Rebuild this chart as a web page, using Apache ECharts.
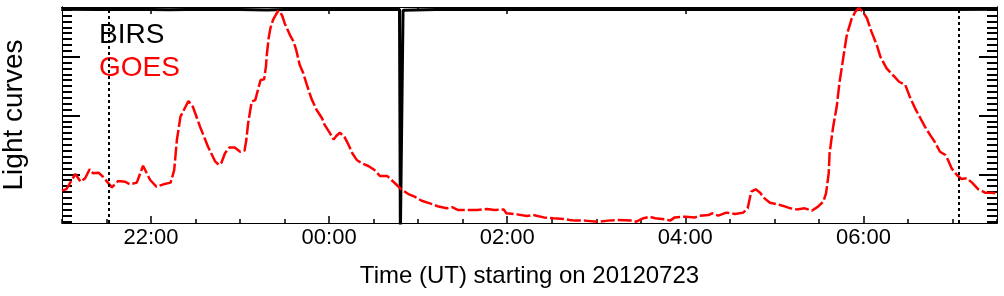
<!DOCTYPE html>
<html>
<head>
<meta charset="utf-8">
<script src="https://cdn.jsdelivr.net/npm/echarts@6.0.0/dist/echarts.min.js"></script>
<style>
html, body { margin: 0; padding: 0; background: #fff; }
#chart { width: 1004px; height: 296px; }
</style>
</head>
<body>
<div id="chart"></div>
<script>
// GOES light curve: time in decimal hours UT (>24 = next day), normalised flux
var goesTime = [21.00, 21.05, 21.15, 21.21, 21.26, 21.31, 21.35, 21.41, 21.46, 21.56,
  21.63, 21.71, 21.76, 21.84, 21.91, 21.99, 22.06, 22.14, 22.22, 22.26,
  22.29, 22.33, 22.42, 22.47, 22.55, 22.64, 22.72, 22.76, 22.79, 22.83,
  22.88, 22.94, 23.00, 23.05, 23.07, 23.09, 23.13, 23.17, 23.20, 23.23,
  23.27, 23.29, 23.30, 23.32, 23.34, 23.37, 23.40, 23.43, 23.47, 23.50,
  23.56, 23.60, 23.63, 23.67, 23.71, 23.75, 23.80, 23.86, 23.92, 23.95,
  24.01, 24.05, 24.08, 24.12, 24.17, 24.21, 24.26, 24.31, 24.37, 24.44,
  24.51, 24.57, 24.65, 24.70, 24.76, 24.81, 24.89, 24.96, 25.04, 25.13,
  25.23, 25.32, 25.38, 25.45, 25.54, 25.66, 25.77, 25.86, 25.96, 25.99,
  26.11, 26.22, 26.29, 26.41, 26.52, 26.63, 26.70, 26.76, 26.87, 27.02,
  27.13, 27.25, 27.40, 27.45, 27.53, 27.60, 27.66, 27.77, 27.83, 27.88,
  28.00, 28.11, 28.16, 28.26, 28.30, 28.37, 28.46, 28.56, 28.65, 28.70,
  28.72, 28.74, 28.79, 28.84, 28.89, 28.95, 29.03, 29.10, 29.18, 29.25,
  29.34, 29.42, 29.49, 29.55, 29.58, 29.61, 29.62, 29.66, 29.70, 29.73,
  29.77, 29.81, 29.83, 29.87, 29.91, 29.95, 29.99, 30.04, 30.09, 30.15,
  30.19, 30.26, 30.34, 30.40, 30.47, 30.52, 30.58, 30.64, 30.69, 30.75,
  30.80, 30.86, 30.92, 30.95, 30.99, 31.05, 31.10, 31.16, 31.22, 31.29,
  31.37, 31.44, 31.50];
var goesFlux = [0.150, 0.157, 0.227, 0.191, 0.207, 0.249, 0.230, 0.233, 0.214, 0.165,
  0.194, 0.191, 0.179, 0.187, 0.265, 0.199, 0.168, 0.179, 0.187, 0.245,
  0.384, 0.492, 0.565, 0.538, 0.446, 0.353, 0.285, 0.269, 0.279, 0.323,
  0.350, 0.349, 0.330, 0.335, 0.384, 0.461, 0.562, 0.569, 0.616, 0.662,
  0.665, 0.724, 0.778, 0.854, 0.901, 0.940, 0.963, 0.983, 0.963, 0.925,
  0.870, 0.840, 0.801, 0.731, 0.693, 0.639, 0.577, 0.523, 0.485, 0.454,
  0.415, 0.387, 0.403, 0.418, 0.400, 0.369, 0.323, 0.292, 0.276, 0.264,
  0.245, 0.218, 0.218, 0.199, 0.176, 0.156, 0.134, 0.122, 0.103, 0.091,
  0.076, 0.068, 0.073, 0.060, 0.060, 0.060, 0.065, 0.060, 0.063, 0.045,
  0.040, 0.032, 0.037, 0.026, 0.022, 0.019, 0.014, 0.011, 0.011, 0.006,
  0.011, 0.014, 0.011, 0.006, 0.022, 0.029, 0.022, 0.017, 0.011, 0.026,
  0.029, 0.026, 0.034, 0.037, 0.045, 0.034, 0.048, 0.042, 0.048, 0.068,
  0.106, 0.145, 0.156, 0.140, 0.114, 0.094, 0.087, 0.079, 0.068, 0.063,
  0.068, 0.057, 0.076, 0.099, 0.137, 0.230, 0.323, 0.446, 0.538, 0.647,
  0.755, 0.862, 0.894, 0.948, 0.979, 0.995, 0.979, 0.948, 0.886, 0.824,
  0.770, 0.716, 0.681, 0.654, 0.639, 0.585, 0.531, 0.485, 0.446, 0.407,
  0.376, 0.330, 0.315, 0.292, 0.253, 0.222, 0.204, 0.207, 0.187, 0.156,
  0.140, 0.140, 0.137];

// BIRS curve: sits at the top of the frame, with one drop-out near 00:48
var birsTime = [21.00, 21.40, 21.80, 22.20, 22.60, 23.00, 23.30, 23.60, 23.90, 24.20,
  24.50, 24.79, 24.80, 24.815, 24.83, 25.20, 25.60, 26.00, 26.50, 27.00,
  27.50, 28.00, 28.50, 29.00, 29.50, 30.00, 30.50, 31.00, 31.50];
var birsFlux = [0.990, 0.988, 0.990, 0.987, 0.990, 0.989, 0.986, 0.990, 0.988, 0.990,
  0.989, 0.990, -0.05, -0.05, 0.985, 0.988, 0.990, 0.989, 0.990, 0.988,
  0.990, 0.989, 0.990, 0.988, 0.990, 0.989, 0.990, 0.988, 0.990];

// dotted reference times, tick positions
var markTimes = [21.517, 31.07];
var hourTicks = [22, 24, 26, 28, 30];
var yMajorTicks = [0.2255, 0.4977, 0.7699];
var yMinorTicks = [];
for (var k = -8; k <= 28; k++) {
  yMinorTicks.push(+(0.2255 + k * 0.02722).toFixed(4));
}

var font = 'Liberation Sans';
var chart = echarts.init(document.getElementById('chart'));

function zip(xs, ys) {
  return xs.map(function (x, i) { return [x, ys[i]]; });
}

function xAxisDef(position, major) {
  var ax = {
    type: 'value',
    position: position,
    min: 21,
    max: 31.5,
    axisLine: { show: true, onZero: false, lineStyle: { color: '#000', width: 1 } },
    axisTick: { show: true, inside: true, length: major ? 7 : 4, lineStyle: { color: '#000', width: 1.5 } },
    axisLabel: { show: false },
    splitLine: { show: false }
  };
  if (major) {
    ax.axisTick.customValues = hourTicks;
  } else {
    ax.interval = 0.5;
  }
  return ax;
}

function yAxisDef(position, major) {
  return {
    type: 'value',
    position: position,
    min: 0,
    max: 1,
    axisLine: { show: true, onZero: false, lineStyle: { color: '#000', width: 1 } },
    axisTick: {
      show: true, inside: true, length: major ? 18 : 10,
      customValues: major ? yMajorTicks : yMinorTicks,
      lineStyle: { color: '#000', width: 2 }
    },
    axisLabel: { show: false },
    splitLine: { show: false }
  };
}

var xMain = xAxisDef('bottom', true);
xMain.axisLabel = {
  show: true,
  customValues: hourTicks,
  margin: 4,
  fontFamily: font,
  fontSize: 22,
  color: '#000',
  formatter: function (v) {
    var h = Math.round(v) % 24;
    return (h < 10 ? '0' : '') + h + ':00';
  }
};
xMain.name = 'Time (UT) starting on 20120723';
xMain.nameLocation = 'middle';
xMain.nameGap = 41;
xMain.nameTextStyle = { fontFamily: font, fontSize: 24, color: '#000' };

var yMain = yAxisDef('left', true);
yMain.name = 'Light curves';
yMain.nameLocation = 'middle';
yMain.nameGap = 34;
yMain.nameTextStyle = { fontFamily: font, fontSize: 28, color: '#000' };

var option = {
  animation: false,
  backgroundColor: '#fff',
  grid: { left: 62, right: 7, top: 7, bottom: 73, containLabel: false, outerBoundsMode: 'none' },
  legend: {
    data: [
      { name: 'BIRS', textStyle: { color: '#000' } },
      { name: 'GOES', textStyle: { color: '#ff0000' } }
    ],
    icon: 'none',
    orient: 'vertical',
    left: 94,
    top: 21,
    padding: 0,
    itemWidth: 0,
    itemHeight: 28,
    itemGap: 5,
    selectedMode: false,
    textStyle: { fontFamily: font, fontSize: 28 }
  },
  xAxis: [
    xMain,
    xAxisDef('bottom', false),
    xAxisDef('top', true),
    xAxisDef('top', false)
  ],
  yAxis: [
    yMain,
    yAxisDef('left', false),
    yAxisDef('right', true),
    yAxisDef('right', false)
  ],
  series: [
    {
      name: 'BIRS',
      type: 'line',
      data: zip(birsTime, birsFlux),
      showSymbol: false,
      clip: true,
      lineStyle: { color: '#000', width: 3 },
      itemStyle: { color: '#000' }
    },
    {
      name: 'GOES',
      type: 'line',
      data: zip(goesTime, goesFlux),
      showSymbol: false,
      clip: true,
      lineStyle: { color: '#ff0000', width: 2.5, type: [14, 3] },
      itemStyle: { color: '#ff0000' },
      markLine: {
        silent: true,
        symbol: 'none',
        label: { show: false },
        lineStyle: { color: '#000', width: 2, type: [3, 3] },
        data: markTimes.map(function (t) { return { xAxis: t }; })
      }
    }
  ]
};
chart.setOption(option);
</script>
</body>
</html>
